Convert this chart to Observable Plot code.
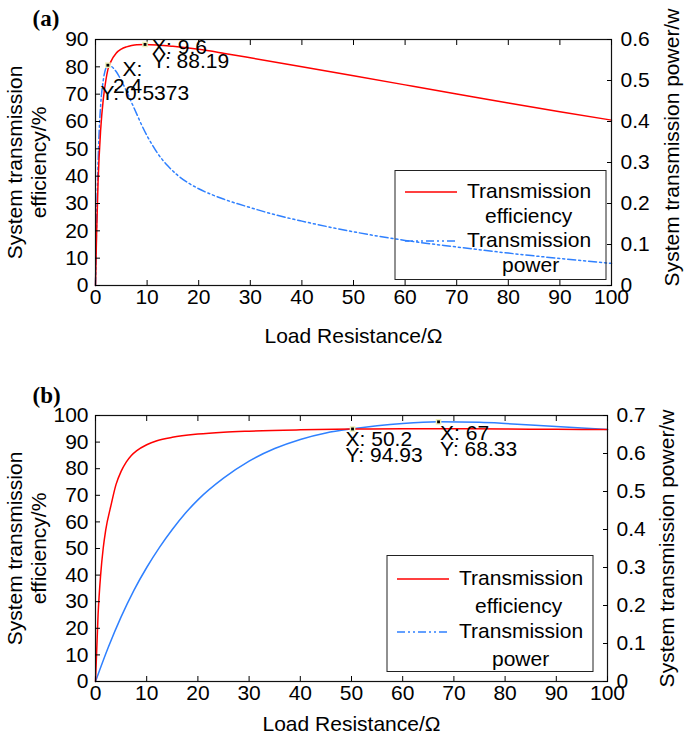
<!DOCTYPE html>
<html><head><meta charset="utf-8">
<script src="https://cdn.jsdelivr.net/npm/d3@7"></script>
<script src="https://cdn.jsdelivr.net/npm/@observablehq/plot@0.6"></script>
<style>
body{margin:0;background:#fff;}
#chart{width:685px;}
#chart svg{display:block;}
</style></head><body><div id="chart"></div>
<script>
// ---- tick labels ----
const xTicks = [0,10,20,30,40,50,60,70,80,90,100];
const effTicksA = [0,10,20,30,40,50,60,70,80,90];
const powTicksA = [0,0.1,0.2,0.3,0.4,0.5,0.6];
const effTicksB = [0,10,20,30,40,50,60,70,80,90,100];
const powTicksB = [0,0.1,0.2,0.3,0.4,0.5,0.6,0.7];

// ---- panel (a) ----
const effResA = [0,0.2,0.5,1,1.5,2,2.4,3,4,5,6,7,8,9.6,12,15,20,25,30,40,50,60,70,80,90,100];
const effValA = [0,18,38,57,68,75,79,82,85,86.5,87.3,87.8,88.1,88.19,88,87.5,86.4,84.9,83.3,80,76.7,73.4,70.1,66.8,63.6,60.5];
const powResA = [0,0.3,0.6,1,1.5,2,2.4,3,4,5,6,7,8,9,10,11,12,14,16,18,20,25,30,35,40,50,60,70,80,90,100];
const powValA = [0,0.2,0.34,0.44,0.5,0.53,0.5373,0.535,0.522,0.5,0.474,0.446,0.418,0.39,0.365,0.343,0.323,0.292,0.268,0.25,0.236,0.21,0.19,0.172,0.157,0.131,0.11,0.094,0.079,0.066,0.054];

// ---- panel (b) ----
const effResB = [0,0.5,1,1.5,2,3,4,5,6,7,8,10,12,15,20,25,30,40,50.2,60,70,80,90,100];
const effValB = [0,25,40,50,57,66,74,79,82.5,85,86.7,89,90.5,91.8,93,93.7,94.1,94.6,94.93,95,95,94.9,94.8,94.7];
const powResB = [0,2.5,5,7.5,10,12.5,15,17.5,20,25,30,35,40,45,50.2,55,60,67,75,80,85,90,95,100];
const powValB = [0,0.09,0.17,0.24,0.3,0.353,0.4,0.442,0.478,0.535,0.58,0.613,0.637,0.654,0.665,0.673,0.679,0.6833,0.682,0.679,0.675,0.671,0.667,0.663];

const seriesNames = ["Transmission\nefficiency", "Transmission\npower"];
const RED = "#ff0000", BLUE = "#2f80ff";
const FONT = "'Liberation Sans', Arial, sans-serif";

const zip = (xs, ys) => xs.map((x, i) => ({r: x, v: ys[i]}));
const fmtP = d => d3.format("~g")(+d.toFixed(3));

function panel(o) {
  const k = o.effMax / o.powMax;
  const eff = zip(o.effRes, o.effVal);
  const pow = zip(o.powRes, o.powVal);
  const W = 685;
  const L = o.legend;
  const legendMark = () => {
    const g = d3.create("svg:g").attr("font-family", FONT).attr("font-size", 21).attr("text-anchor", "start").attr("fill", "black");
    g.append("rect").attr("x", L.x).attr("y", L.y).attr("width", L.w).attr("height", L.h)
      .attr("fill", "none").attr("stroke", "#222").attr("stroke-width", 1);
    const rows = [{c: RED, dash: null, y: L.row1}, {c: BLUE, dash: "8,3,2,3,2,3", y: L.row2}];
    rows.forEach((r, i) => {
      g.append("line").attr("x1", L.x + 10).attr("x2", L.x + 62).attr("y1", r.y - 6).attr("y2", r.y - 6)
        .attr("stroke", r.c).attr("stroke-width", 1.5).attr("stroke-dasharray", r.dash);
      const [a, b] = seriesNames[i].split("\n");
      g.append("text").attr("x", L.x + 72).attr("y", r.y).text(a);
      g.append("text").attr("x", L.x + L.ind[i]).attr("y", r.y + L.gap).text(b);
    });
    return g.node();
  };
  return Plot.plot({
    width: W, height: o.height,
    marginLeft: 95, marginRight: o.marginRight, marginTop: o.marginTop, marginBottom: o.marginBottom,
    style: {fontFamily: FONT, fontSize: "21px", background: "white", color: "black"},
    x: {domain: [0, 100], label: null},
    y: {domain: [0, o.effMax], label: null},
    marks: [
      Plot.line(pow, {x: "r", y: d => d.v * k, stroke: BLUE, strokeWidth: 1.5, curve: "monotone-x", strokeDasharray: o.dashed ? "8,3,2,3,2,3" : null}),
      Plot.line(eff, {x: "r", y: "v", stroke: RED, strokeWidth: 1.5, curve: "monotone-x"}),
      Plot.frame({stroke: "#111", strokeWidth: 1.2}),
      Plot.axisX(xTicks, {tickSize: 0, tickPadding: 4, fontSize: 21, label: null}),
      Plot.axisX(xTicks, {tickSize: -5, tickFormat: () => "", label: null}),
      Plot.axisX(xTicks, {anchor: "top", tickSize: -5, tickFormat: () => "", label: null}),
      Plot.axisY(o.effTicks, {anchor: "left", tickSize: 0, tickPadding: 7, fontSize: 21, label: null}),
      Plot.axisY(o.effTicks, {anchor: "left", tickSize: -5, tickFormat: () => "", label: null}),
      Plot.axisY(o.powTicks.map(v => v * k), {anchor: "right", tickSize: 0, tickPadding: 9, fontSize: 21, tickFormat: d => fmtP(d / k), label: null}),
      Plot.axisY(o.powTicks.map(v => v * k), {anchor: "right", tickSize: -5, tickFormat: () => "", label: null}),
      // axis titles
      Plot.text(["System transmission\nefficiency/%"], {frameAnchor: "left", dx: -50, rotate: -90, lineAnchor: "bottom", lineHeight: 1.143, fontSize: 21, textAnchor: "middle"}),
      Plot.text(["System transmission power/w"], {frameAnchor: "right", dx: o.rdx, dy: o.rdy, rotate: -90, lineAnchor: "bottom", fontSize: 21, textAnchor: "middle"}),
      Plot.text(["Load Resistance/\u03a9"], {frameAnchor: "bottom", dy: o.xdy, lineAnchor: "bottom", fontSize: 21, textAnchor: "middle"}),
      Plot.text([o.tag], {frameAnchor: "top-left", dx: -63, dy: o.tagdy, lineAnchor: "bottom", textAnchor: "start", fontFamily: "'Liberation Serif', 'Times New Roman', serif", fontWeight: "bold", fontSize: 23}),
      // data tips
      Plot.dot(o.tips, {x: "x", y: "py", symbol: "square", r: 3.2, fill: "#eef0b8", stroke: "none"}),
      Plot.dot(o.tips, {x: "x", y: "py", symbol: "square", r: 1.6, fill: "black", stroke: "none"}),
      ...o.tipTexts.map(t => Plot.text([t], {x: "x", y: "py", text: "s", dx: t.dx, dy: t.dy, textAnchor: "start", lineAnchor: "bottom", lineHeight: t.lh || 1, fontSize: 21})),
      legendMark
    ]
  });
}

// data tips
const kA = 90 / 0.6, kB = 100 / 0.7;
const tipsA = [{x: 2.4, y: 0.5373, py: 0.5373 * kA}, {x: 9.6, y: 88.19, py: 88.19}];
const tipTextsA = [
  {x: 9.6, py: 88.19, s: `X: ${9.6}\nY: ${88.19}`, dx: 7, dy: 24, lh: 0.7},
  {x: 2.4, py: 0.5373 * kA, s: "X:", dx: 14.5, dy: 11},
  {x: 2.4, py: 0.5373 * kA, s: `${2.4}`, dx: 5, dy: 28},
  {x: 2.4, py: 0.5373 * kA, s: `Y: ${0.5373}`, dx: -7.5, dy: 35}
];
const tipsB = [{x: 50.2, y: 94.93, py: 94.93}, {x: 67, y: 0.6833, py: 0.6833 * kB}];
const tipTextsB = [
  {x: 50.2, py: 94.93, s: `X: ${50.2}\nY: ${94.93}`, dx: -7, dy: 33, lh: 0.74},
  {x: 67, py: 0.6833 * kB, s: `X: ${67}\nY: ${68.33}`, dx: 1.5, dy: 34.5, lh: 0.76}
];

const chart = document.getElementById("chart");
chart.append(panel({
  tag: "(a)", tagdy: -14,
  effRes: effResA, effVal: effValA, powRes: powResA, powVal: powValA,
  effTicks: effTicksA, powTicks: powTicksA, effMax: 90, powMax: 0.6,
  height: 360, marginTop: 39, marginBottom: 75, marginRight: 74,
  rdx: 67, rdy: -15, xdy: 57, dashed: true,
  tips: tipsA, tipTexts: tipTextsA,
  legend: {x: 395, y: 170.5, w: 211, h: 109, row1: 198, row2: 247, gap: 25, ind: [90, 107]}
}));
chart.append(panel({
  tag: "(b)", tagdy: -13,
  effRes: effResB, effVal: effValB, powRes: powResB, powVal: powValB,
  effTicks: effTicksB, powTicks: powTicksB, effMax: 100, powMax: 0.7,
  height: 386, marginTop: 55, marginBottom: 65, marginRight: 78,
  rdx: 66, rdy: 0, xdy: 49, dashed: false,
  tips: tipsB, tipTexts: tipTextsB,
  legend: {x: 387, y: 195.5, w: 206, h: 116, row1: 225, row2: 278, gap: 28, ind: [88, 105]}
}));
</script></body></html>
